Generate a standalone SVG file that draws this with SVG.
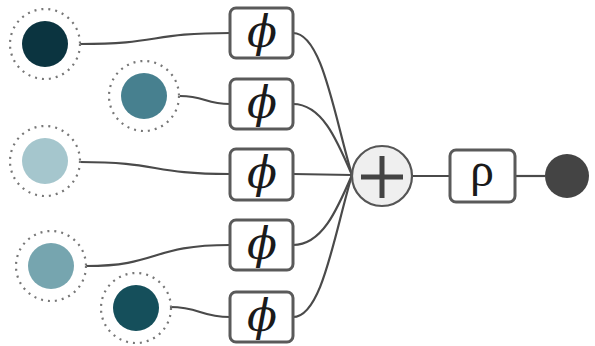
<svg xmlns="http://www.w3.org/2000/svg" width="595" height="346" viewBox="0 0 595 346">
<style>
.ring{fill:none;stroke:#777;stroke-width:2.2;stroke-dasharray:2 5}
.box{fill:#fff;stroke:#5a5a5a;stroke-width:3}
.lnk{fill:none;stroke:#4a4a4a;stroke-width:2.2}
.lbl{font-family:"DejaVu Serif","Liberation Serif",serif;font-style:italic;font-size:44px;fill:#1a1a1a;text-anchor:middle}
.rho{font-family:"Liberation Serif","DejaVu Serif",serif;font-size:48px;fill:#1a1a1a;text-anchor:middle}
</style>
<rect width="595" height="346" fill="#fff"/>
<g id="connectors">
<path class="lnk" d="M80,44 C160,44 150,33 230,33"/>
<path class="lnk" d="M180,96 C205,96 205,104 230,104"/>
<path class="lnk" d="M80,162 C160,162 150,174 230,174"/>
<path class="lnk" d="M86,266 C160,266 150,245 230,245"/>
<path class="lnk" d="M170,307 C200,307 200,317 230,317"/>
<path class="lnk" d="M293,33 C322,33 334,115 352,175"/>
<path class="lnk" d="M293,104 C322,104 337,140 352,175"/>
<path class="lnk" d="M293,174 L352,175"/>
<path class="lnk" d="M293,245 C322,245 337,210 352,175"/>
<path class="lnk" d="M293,317 C322,317 334,235 352,175"/>
<path class="lnk" d="M412,176 L450,176"/>
<path class="lnk" d="M515,176 L545,176"/>
</g>
<g id="x1"><circle class="ring" cx="45" cy="44" r="35"/><circle cx="45" cy="44" r="23" fill="#0b3440"/></g>
<g id="x2"><circle class="ring" cx="144" cy="96" r="35"/><circle cx="144" cy="96" r="23" fill="#47808f"/></g>
<g id="x3"><circle class="ring" cx="45" cy="161" r="35"/><circle cx="45" cy="161" r="23" fill="#a5c6cd"/></g>
<g id="x4"><circle class="ring" cx="51" cy="266" r="35"/><circle cx="51" cy="266" r="23" fill="#76a5af"/></g>
<g id="x5"><circle class="ring" cx="136" cy="308" r="35"/><circle cx="136" cy="308" r="23" fill="#154f5b"/></g>
<g id="phi1"><rect class="box" x="230" y="8" width="63" height="50" rx="6"/><text class="lbl" x="262" y="47">ϕ</text></g>
<g id="phi2"><rect class="box" x="230" y="79" width="63" height="50" rx="6"/><text class="lbl" x="262" y="118">ϕ</text></g>
<g id="phi3"><rect class="box" x="230" y="149" width="63" height="51" rx="6"/><text class="lbl" x="262" y="188">ϕ</text></g>
<g id="phi4"><rect class="box" x="230" y="220" width="63" height="50" rx="6"/><text class="lbl" x="262" y="259">ϕ</text></g>
<g id="phi5"><rect class="box" x="230" y="292" width="63" height="50" rx="6"/><text class="lbl" x="262" y="331">ϕ</text></g>
<g id="sum"><circle cx="382" cy="176" r="30" fill="#efefef" stroke="#555" stroke-width="2.2"/><path d="M361,177 H403 M382,156 V198" stroke="#444" stroke-width="5" fill="none"/></g>
<g id="rho"><rect class="box" x="450" y="150" width="65" height="52" rx="6"/><text class="rho" x="482" y="186">ρ</text></g>
<g id="out"><circle cx="567" cy="176" r="22" fill="#444"/></g>
</svg>
